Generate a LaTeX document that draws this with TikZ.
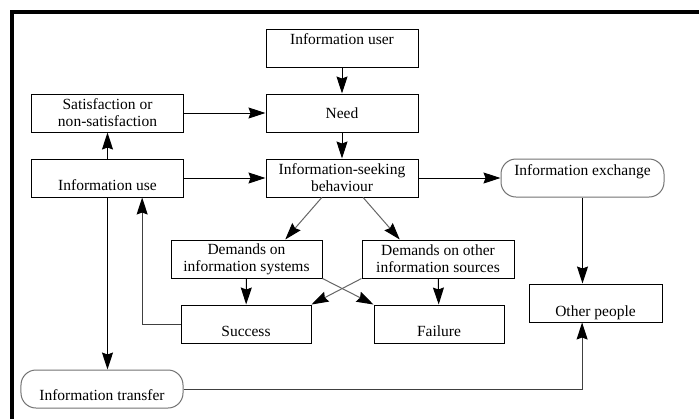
\documentclass[tikz,border=0pt]{standalone}
\usepackage{fontspec}
\setmainfont{Liberation Serif}
\usetikzlibrary{arrows.meta,calc}
\begin{document}
\begin{tikzpicture}[x=1bp,y=-1bp,
  box/.style={draw, line width=1bp, minimum height=38bp, inner xsep=2bp, inner ysep=0bp,
    align=center, font=\fontsize{15.5bp}{17bp}\selectfont},
  rbox/.style={box, draw=black!55, rounded corners=15bp},
  arr/.style={line width=1bp, -{Stealth[length=17bp,width=11bp,inset=2bp,color=black]}},
  garr/.style={arr, draw=black!60}]
\useasboundingbox (0,0) rectangle (699,419);
\fill[white] (0,0) rectangle (699,419);
\draw[line width=4bp] (12,419) -- (12,12) -- (699,12);

\node[box, minimum width=152bp, text height=15bp, text depth=23bp] (user) at (342,48) {Information user};
\node[box, minimum width=152bp] (need) at (342,113) {Need};
\node[box, minimum width=151bp] (sat) at (107.5,113) {Satisfaction or\\non-satisfaction};
\node[box, minimum width=151bp, text height=31bp, text depth=7bp] (use) at (107.5,178) {Information use};
\node[box, minimum width=152bp] (isb) at (342,178) {Information-seeking\\behaviour};
\node[rbox, minimum width=163bp, text height=16bp, text depth=22bp] (exch) at (582.5,178) {Information exchange};
\node[box, minimum width=151bp] (dsys) at (246.5,259) {Demands on\\information systems};
\node[box, minimum width=152bp] (doth) at (438,259) {Demands on other\\information sources};
\node[box, minimum width=130bp, text height=31bp, text depth=7bp] (succ) at (246,324) {Success};
\node[box, minimum width=130bp, text height=31bp, text depth=7bp] (fail) at (439,324) {Failure};
\node[box, minimum width=133bp, text height=32bp, text depth=6bp] (other) at (595.5,303) {Other people};
\node[rbox, minimum width=162bp, text height=30bp, text depth=8bp] (trans) at (102,389) {Information transfer};

\draw[arr] (user) -- (need);
\draw[arr] (need) -- (isb);
\draw[arr] (sat) -- (need);
\draw[arr] (use) -- (sat);
\draw[arr] (use) -- (isb);
\draw[arr] (isb) -- (exch);
\draw[garr] ($(isb.south west)!0.368!(isb.south east)$) -- ($(dsys.north west)!0.755!(dsys.north east)$);
\draw[garr] ($(isb.south west)!0.638!(isb.south east)$) -- ($(doth.north west)!0.25!(doth.north east)$);
\draw[arr] (dsys) -- (succ);
\draw[arr] (doth) -- (fail);
\draw[garr] (dsys.south east) -- (fail.north west);
\draw[garr] (doth.south west) -- (succ.north east);
\draw[arr, draw=black!75] (succ.west) -| ($(use.south west)!0.728!(use.south east)$);
\draw[arr] (use.south) -- (use.south |- trans.north);
\draw[arr, draw=black!75] (trans.east) -| ($(other.south west)!0.4!(other.south east)$);
\draw[arr] (exch.south) -- (exch.south |- other.north);
\end{tikzpicture}
\end{document}
